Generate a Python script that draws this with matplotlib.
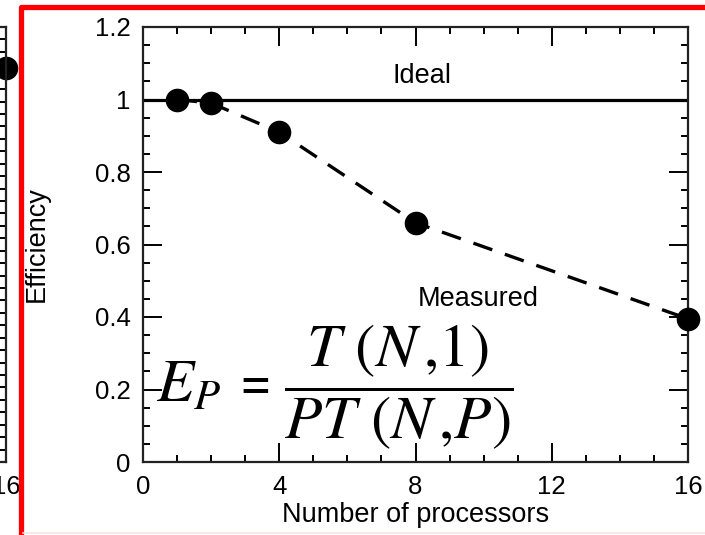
import matplotlib
matplotlib.use("Agg")
import matplotlib.pyplot as plt
from matplotlib.lines import Line2D
from matplotlib.ticker import MultipleLocator

# data
procs = [1, 2, 4, 8, 16]
efficiency = [1.0, 0.99, 0.91, 0.66, 0.395]
ideal_x = [0, 16]
ideal_y = [1.0, 1.0]

# piece of the neighbouring (cut-off) chart on the left
left_x = [16]
left_y = [31.7]

plt.rcParams['font.family'] = ['Liberation Sans', 'DejaVu Sans']
plt.rcParams['mathtext.fontset'] = 'stix'

W, H = 705, 535
fig = plt.figure(figsize=(W / 100, H / 100), dpi=100)


def px(x0, y0, x1, y1):
    # pixel box (top-left origin) -> figure fraction rect
    return [x0 / W, 1 - y1 / H, (x1 - x0) / W, (y1 - y0) / H]


def style_ticks(ax):
    ax.tick_params(which='major', direction='in', length=13.5, width=1.4,
                   top=True, right=True, labelsize=18.5, pad=9)
    ax.tick_params(which='minor', direction='in', length=5, width=1.4,
                   top=True, right=True)
    for s in ax.spines.values():
        s.set_linewidth(1.6)
        s.set_color('#222222')


# main efficiency chart
ax = fig.add_axes(px(143, 27, 688, 462))
ax.plot(ideal_x, ideal_y, color='black', lw=2.3)
ax.plot(procs, efficiency, color='black', lw=2.4, ls=(0, (6, 4)),
        marker='o', ms=16, clip_on=False, zorder=5)
ax.set_xlim(0, 16)
ax.set_ylim(0, 1.2)
ax.xaxis.set_major_locator(MultipleLocator(4))
ax.xaxis.set_minor_locator(MultipleLocator(1))
ax.yaxis.set_major_locator(MultipleLocator(0.2))
ax.yaxis.set_minor_locator(MultipleLocator(0.05))
ax.set_yticks([0, 0.2, 0.4, 0.6, 0.8, 1.0, 1.2],
              ['0', '0.2', '0.4', '0.6', '0.8', '1', '1.2'])
style_ticks(ax)
ax.set_xlabel('Number of processors', fontsize=19.5)
ax.xaxis.set_label_coords(0.5, -0.092)
ax.set_ylabel('Efficiency', fontsize=19.5)
ax.yaxis.set_label_coords(-0.172, 0.5)

ax.text(8.2, 1.045, 'Ideal', fontsize=19.5, ha='center', va='baseline')
ax.text(9.85, 0.43, 'Measured', fontsize=19.5, ha='center', va='baseline')

# efficiency formula, built from three pieces
fig.text(156 / W, 1 - 402 / H, r'$E_P$', fontsize=44, ha='left', va='baseline')
fig.text(240 / W, 1 - 402 / H, '=', fontsize=38, fontfamily='Liberation Serif',
         fontweight='bold', ha='left', va='baseline')
fig.text(284 / W, 1 - 387 / H, r'$\dfrac{T\ (N\,{,}1)}{PT\ (N\,{,}P)}$',
         fontsize=44, ha='left', va='center')

# cut-off chart at the left edge
axl = fig.add_axes(px(-300, 27, 6, 462))
axl.plot(left_x, left_y, 'o', color='black', ms=16, clip_on=False)
axl.set_xlim(0, 16)
axl.set_ylim(0, 35)
axl.set_xticks([16])
axl.yaxis.set_major_locator(MultipleLocator(1))
axl.tick_params(axis='y', direction='in', length=6, width=1.4,
                left=False, right=True, labelleft=False)
axl.tick_params(axis='x', direction='in', length=0, labelsize=18.5, pad=9)
for s in axl.spines.values():
    s.set_linewidth(1.6)
    s.set_color('#222222')

# red slide frame
fig.add_artist(Line2D([20.5 / W, 20.5 / W, 1.0], [0.0, 1 - 6.5 / H, 1 - 6.5 / H],
                      transform=fig.transFigure, color='#ff0000', lw=3.8,
                      solid_joinstyle='round'))
fig.add_artist(Line2D([23 / W, 1.0], [1 - 532.5 / H, 1 - 532.5 / H],
                      transform=fig.transFigure, color='#fbe4e7', lw=1.2))

fig.savefig('out.png', dpi=100)
